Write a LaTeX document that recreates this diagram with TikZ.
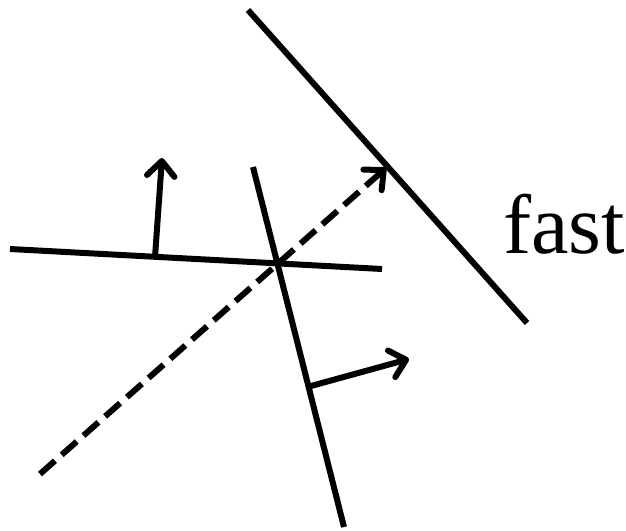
\documentclass[tikz,border=0pt]{standalone}
\usepackage{fontspec}
\setmainfont{Liberation Serif}
\usetikzlibrary{arrows.meta}
\begin{document}
\begin{tikzpicture}[x=0.02cm,y=-0.02cm,line width=0.12cm,
  barb/.style={-{Straight Barb[length=0.3cm,width=0.55cm,line cap=round,line join=round]}}]
\useasboundingbox (0,0) rectangle (626,531);
\coordinate (A1) at (10,249);
\coordinate (A2) at (382,269);
\coordinate (B1) at (253,167);
\coordinate (B2) at (344,527);
\coordinate (C1) at (248,10);
\coordinate (C2) at (527,323);
\coordinate (An) at (155,257);
\coordinate (Bn) at (311,386);
\coordinate (D1) at (40,474);
\coordinate (D2) at (386,168);
\draw (A1) -- (A2);
\draw (B1) -- (B2);
\draw (C1) -- (C2);
\draw[barb] (An) -- (162,158);
\draw[barb] (Bn) -- (409,359);
\draw[barb,dash pattern=on 0.4cm off 0.18cm] (D1) -- (D2);
\node[anchor=base west,inner sep=0pt,font=\fontsize{48}{50}\selectfont] (fast) at (500,253) {fast};
\end{tikzpicture}
\end{document}
